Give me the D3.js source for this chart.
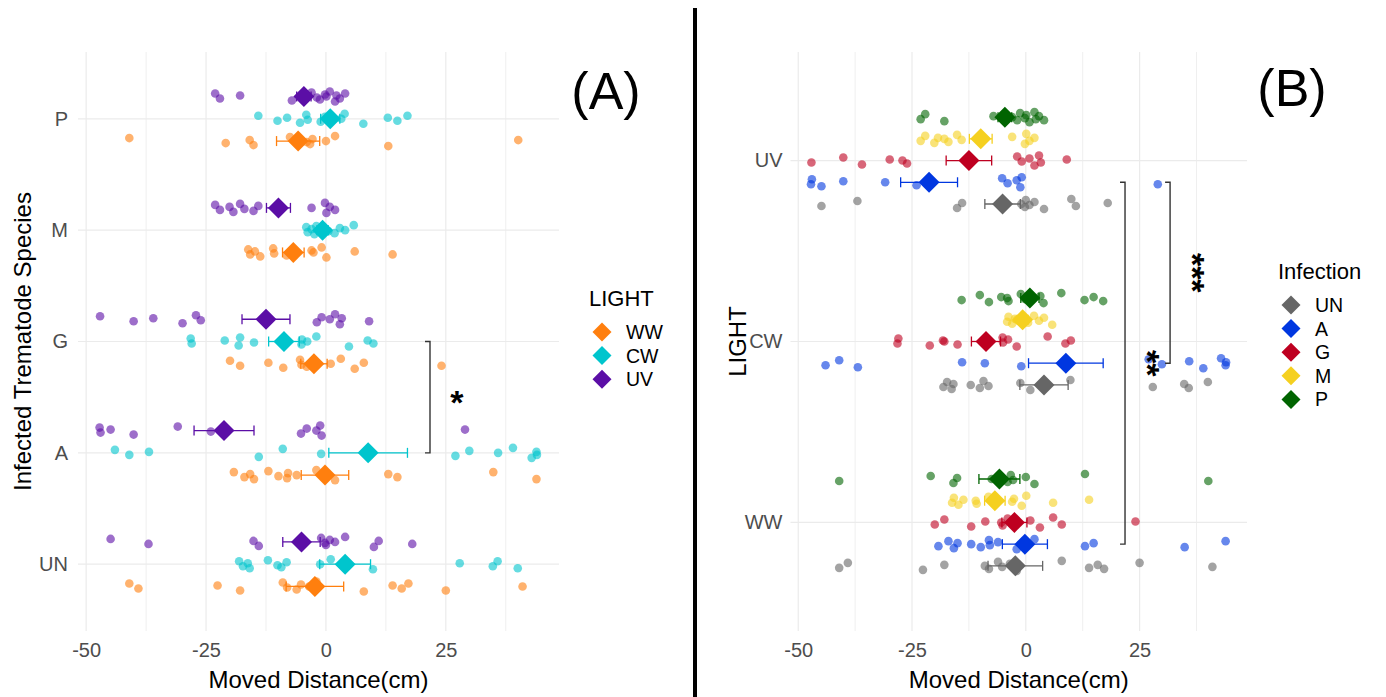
<!DOCTYPE html>
<html>
<head>
<meta charset="utf-8">
<script src="https://cdn.jsdelivr.net/npm/d3@7"></script>
<style>
  body { margin: 0; background: #fff; }
  svg { font-family: "Liberation Sans", Arial, sans-serif; }
</style>
</head>
<body>
<svg id="chart" width="1386" height="697"></svg>
<script>
// Categories
const species = ["UN", "A", "G", "M", "P"];
const lights = ["WW", "CW", "UV"];
const xTicks = [-50, -25, 0, 25];
const xMinor = [-37.5, -12.5, 12.5, 37.5];

// moved distance (cm) of each individual, per species and light
const UN_WW = [-41.0, -39.1, -22.6, -17.9, -9.0, -8.1, -6.1, -5.2, -3.5, -2.0, 7.9, 13.9, 15.8, 17.2, 25.0, 41.0];
const UN_CW = [-18.1, -17.3, -16.3, -15.9, -12.1, -10.1, -9.3, -8.2, -1.2, 1.0, 9.8, 27.9, 34.8, 35.8, 40.0];
const UN_UV = [-44.9, -37.0, -15.1, -14.0, -1.0, -0.2, 0.0, 0.8, 1.9, 4.0, 10.0, 11.0, 18.0];
const A_WW = [-19.2, -17.0, -15.8, -15.0, -12.0, -9.9, -8.1, -7.9, -6.1, -2.0, 1.9, 13.0, 14.9, 34.9, 43.9];
const A_CW = [-44.0, -41.0, -36.9, -14.0, -9.0, -1.0, 27.0, 29.9, 35.9, 39.0, 42.9, 43.9, 44.0];
const A_UV = [-47.2, -47.0, -44.9, -40.1, -30.9, -24.0, -5.2, -4.0, -2.0, -1.2, -0.9, 29.0];
const G_WW = [-20.0, -17.9, -12.0, -8.9, -5.4, -5.1, -4.0, -2.5, 1.0, 3.1, 6.0, 7.9, 24.1];
const G_CW = [-28.2, -28.0, -21.1, -18.2, -17.9, -15.0, -5.1, -5.0, -3.9, -2.0, 4.8, 8.7, 9.9];
const G_UV = [-47.1, -40.1, -36.0, -29.9, -27.1, -26.1, -1.9, -0.9, 0.8, 1.9, 2.9, 3.3, 9.0];
const M_WW = [-16.2, -15.8, -14.8, -13.7, -11.0, -10.8, -8.2, -3.0, -2.6, -0.9, 0.1, 6.0, 13.9];
const M_CW = [-4.1, -3.8, -3.0, -2.4, -2.0, 0.5, 1.8, 2.9, 4.0, 5.8];
const M_UV = [-23.1, -22.1, -20.1, -19.3, -17.9, -17.0, -15.1, -14.1, -3.0, -0.2, 0.1, 0.8, 1.9];
const P_WW = [-41.0, -20.9, -15.9, -15.1, -7.5, -4.0, -3.3, -2.8, 0.0, 1.9, 13.0, 40.1];
const P_CW = [-14.1, -10.1, -8.1, -5.4, -4.1, -3.8, -1.1, -0.2, 3.2, 3.9, 7.8, 12.9, 14.9, 17.0];
const P_UV = [-23.1, -22.1, -17.9, -7.1, -3.0, -1.9, -1.25, -0.2, 0.1, 0.8, 1.9, 2.2, 2.9, 4.0];

// group means and standard errors, in species order UN, A, G, M, P
const meanWW = [-2.3, -0.2, -2.5, -6.8, -5.8];
const meanCW = [4.0, 8.8, -8.75, -0.7, 0.9];
const meanUV = [-5.1, -21.25, -12.5, -9.9, -4.6];
const seWW = [6.0, 4.95, 2.75, 2.25, 4.5];
const seCW = [5.3, 8.2, 3.2, 1.2, 2.0];
const seUV = [3.9, 6.25, 5.0, 2.5, 1.5];

const lightColors = { WW: "#FF7F0E", CW: "#00C5CD", UV: "#5B0EA6" };
const infColors = { UN: "#666666", A: "#0037E0", G: "#BE0020", M: "#F5D020", P: "#006400" };

const raw = {
  UN: { WW: UN_WW, CW: UN_CW, UV: UN_UV },
  A: { WW: A_WW, CW: A_CW, UV: A_UV },
  G: { WW: G_WW, CW: G_CW, UV: G_UV },
  M: { WW: M_WW, CW: M_CW, UV: M_UV },
  P: { WW: P_WW, CW: P_CW, UV: P_UV }
};
const means = { WW: meanWW, CW: meanCW, UV: meanUV };
const ses = { WW: seWW, CW: seCW, UV: seUV };

// flat tables
const points = [];
const summary = [];
species.forEach((s, si) => {
  lights.forEach((l) => {
    raw[s][l].forEach((v, i) => points.push({ species: s, light: l, value: v, i }));
    summary.push({ species: s, light: l, mean: means[l][si], se: ses[l][si] });
  });
});

// small fixed vertical spread so points don't stack
const jitterA = [-3, 2, -1, 4, -4, 1, 3, -2, 0, -5, 5, -1, 2, -3, 4, 0];
const jitterB = [2, -3, 4, -1, 0, 3, -4, 1, -2, 5, -5, 2, -1, 3, -3, 1];

const svg = d3.select("#chart");
const plotTop = 52, plotBottom = 631;

function drawPanel(opt) {
  const g = svg.append("g");
  const x = d3.scaleLinear().domain([-51.7, 48.6]).range([opt.left, opt.right]);
  const y = d3.scalePoint().domain(opt.cats).range([plotBottom, plotTop]).padding(0.6);
  const dodge = d3.scalePoint().domain(opt.groups)
    .range([y.step() * opt.dodgeW / 2, -y.step() * opt.dodgeW / 2]);

  // grid
  g.selectAll(".minor").data(xMinor).join("line")
    .attr("x1", (d) => x(d)).attr("x2", (d) => x(d))
    .attr("y1", plotTop).attr("y2", plotBottom)
    .attr("stroke", "#EFEFEF").attr("stroke-width", 1);
  g.selectAll(".major").data(xTicks).join("line")
    .attr("x1", (d) => x(d)).attr("x2", (d) => x(d))
    .attr("y1", plotTop).attr("y2", plotBottom)
    .attr("stroke", "#EBEBEB").attr("stroke-width", 1.2);
  g.selectAll(".hgrid").data(opt.cats).join("line")
    .attr("x1", opt.left).attr("x2", opt.right)
    .attr("y1", (d) => y(d)).attr("y2", (d) => y(d))
    .attr("stroke", "#EBEBEB").attr("stroke-width", 1.2);

  // axes (text only, like theme_minimal)
  const xAxis = g.append("g").attr("transform", `translate(0,${plotBottom})`)
    .call(d3.axisBottom(x).tickValues(xTicks).tickFormat((d) => String(d)).tickSize(0).tickPadding(12));
  xAxis.select(".domain").remove();
  xAxis.selectAll("text").attr("font-size", 20).attr("fill", "#4D4D4D")
    .attr("font-family", "Liberation Sans, Arial, sans-serif");
  const yAxis = g.append("g").attr("transform", `translate(${opt.left},0)`)
    .call(d3.axisLeft(y).tickSize(0).tickPadding(opt.yPad));
  yAxis.select(".domain").remove();
  yAxis.selectAll("text").attr("font-size", 20).attr("fill", "#4D4D4D")
    .attr("font-family", "Liberation Sans, Arial, sans-serif");

  g.append("text").attr("x", (opt.left + opt.right) / 2).attr("y", 688)
    .attr("text-anchor", "middle").attr("font-size", 24).text("Moved Distance(cm)");
  g.append("text").attr("transform", `translate(${opt.yTitleX},${(plotTop + plotBottom) / 2}) rotate(-90)`)
    .attr("text-anchor", "middle").attr("font-size", 24).text(opt.yTitle);

  const py = (d) => y(d[opt.catKey]) + dodge(d[opt.groupKey]);

  // raw points
  g.selectAll(".pt").data(points).join("circle")
    .attr("cx", (d) => x(d.value))
    .attr("cy", (d) => py(d) + opt.jitter[d.i % opt.jitter.length])
    .attr("r", 4.3)
    .attr("fill", (d) => opt.colors[d[opt.groupKey]])
    .attr("fill-opacity", 0.6);

  // error bars
  const eb = g.selectAll(".eb").data(summary).join("g")
    .attr("stroke", (d) => opt.colors[d[opt.groupKey]]).attr("stroke-width", 1.3);
  eb.append("line")
    .attr("x1", (d) => x(d.mean - d.se)).attr("x2", (d) => x(d.mean + d.se))
    .attr("y1", py).attr("y2", py);
  eb.append("line")
    .attr("x1", (d) => x(d.mean - d.se)).attr("x2", (d) => x(d.mean - d.se))
    .attr("y1", (d) => py(d) - 5).attr("y2", (d) => py(d) + 5);
  eb.append("line")
    .attr("x1", (d) => x(d.mean + d.se)).attr("x2", (d) => x(d.mean + d.se))
    .attr("y1", (d) => py(d) - 5).attr("y2", (d) => py(d) + 5);

  // mean diamonds
  g.selectAll(".mean").data(summary).join("path")
    .attr("d", "M0,-10.5L10.5,0L0,10.5L-10.5,0Z")
    .attr("transform", (d) => `translate(${x(d.mean)},${py(d)})`)
    .attr("fill", (d) => opt.colors[d[opt.groupKey]]);

  // significance brackets
  opt.brackets.forEach((b) => {
    const y1 = y(b.from[0]) + dodge(b.from[1]);
    const y2 = y(b.to[0]) + dodge(b.to[1]);
    const bx = x(b.at);
    g.append("path")
      .attr("d", `M${bx - 5},${y1}H${bx}V${y2}H${bx - 5}`)
      .attr("fill", "none").attr("stroke", "#333").attr("stroke-width", 1.4);
  });
  opt.stars.forEach((s) => {
    const sy = (y(s.y[0]) + dodge(s.y[1]) + y(s.y[2]) + dodge(s.y[3])) / 2;
    g.append("text")
      .attr("transform", `translate(${x(s.at)},${sy}) rotate(${s.rot})`)
      .attr("text-anchor", "middle").attr("dy", "0.48em")
      .attr("font-size", 34).attr("font-weight", "bold").text(s.label);
  });

  // legend
  const lg = g.append("g").attr("transform", `translate(${opt.legendX},${opt.legendY})`);
  lg.append("text").attr("x", 0).attr("y", 0).attr("font-size", 22).text(opt.legendTitle);
  const items = lg.selectAll(".item").data(opt.legendItems).join("g")
    .attr("transform", (d, i) => `translate(0,${26 + i * 23.6})`);
  items.append("path").attr("d", "M0,-9.5L9.5,0L0,9.5L-9.5,0Z")
    .attr("transform", "translate(13,0)")
    .attr("fill", (d) => opt.colors[d]);
  items.append("text").attr("x", 37).attr("y", 0).attr("dy", "0.36em")
    .attr("font-size", 19.5).text((d) => d);
}

// panel A: species on y, light as groups
drawPanel({
  left: 78, right: 559, cats: species, groups: ["WW", "CW", "UV"], dodgeW: 0.4,
  catKey: "species", groupKey: "light", colors: lightColors, jitter: jitterA,
  yPad: 10, yTitle: "Infected Trematode Species", yTitleX: 31,
  brackets: [{ at: 21.7, from: ["G", "CW"], to: ["A", "CW"] }],
  stars: [{ at: 27.3, y: ["G", "CW", "A", "CW"], rot: 0, label: "*" }],
  legendTitle: "LIGHT", legendItems: ["WW", "CW", "UV"], legendX: 589, legendY: 306
});

// panel B: light on y, infection as groups
drawPanel({
  left: 790.5, right: 1247, cats: ["WW", "CW", "UV"], groups: species, dodgeW: 0.48,
  catKey: "light", groupKey: "species", colors: infColors, jitter: jitterB,
  yPad: 8, yTitle: "LIGHT", yTitleX: 746,
  brackets: [
    { at: 21.8, from: ["UV", "A"], to: ["WW", "A"] },
    { at: 31.7, from: ["UV", "A"], to: ["CW", "A"] }
  ],
  stars: [
    { at: 37.6, y: ["UV", "A", "CW", "A"], rot: 90, label: "***" },
    { at: 27.9, y: ["CW", "A", "CW", "A"], rot: 90, label: "**" }
  ],
  legendTitle: "Infection", legendItems: species, legendX: 1278, legendY: 279
});

// (A) / (B) tags and divider
svg.append("text").attr("x", 606).attr("y", 109).attr("text-anchor", "middle")
  .attr("font-size", 52).text("(A)");
svg.append("text").attr("x", 1292).attr("y", 106).attr("text-anchor", "middle")
  .attr("font-size", 52).text("(B)");
svg.append("line").attr("x1", 695).attr("x2", 695).attr("y1", 8).attr("y2", 697)
  .attr("stroke", "#000").attr("stroke-width", 4);
</script>
</body>
</html>
